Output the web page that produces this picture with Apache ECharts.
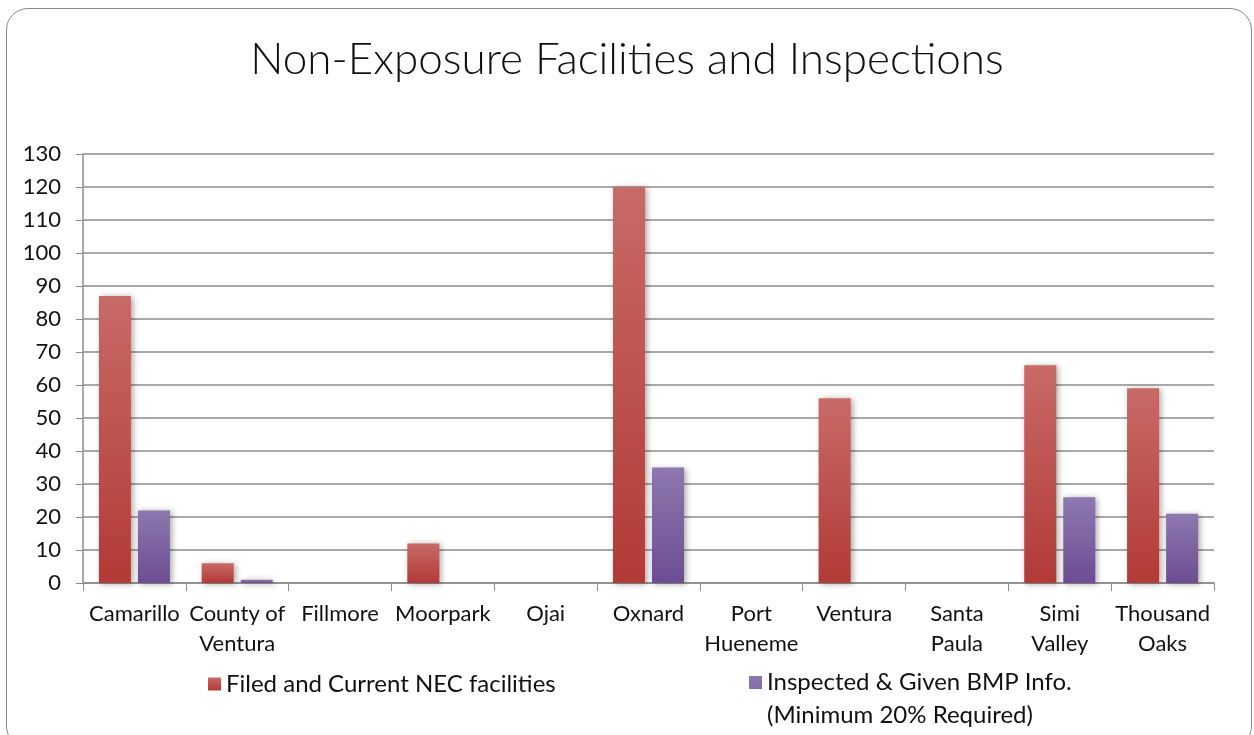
<!DOCTYPE html>
<html>
<head>
<meta charset="utf-8">
<script src="https://cdn.jsdelivr.net/npm/echarts@6/dist/echarts.min.js"></script>
<style>
    html, body { margin: 0; padding: 0; background: #fff; }
    #frame {
        position: absolute; left: 6px; top: 8px; width: 1246px; height: 740px;
        border: 1.5px solid #8a8a8a; border-radius: 22px; box-sizing: border-box;
    }
    #chart { position: absolute; left: 0; top: 0; width: 1254px; height: 735px; }
</style>
</head>
<body>
<div id="frame"></div>
<div id="chart"></div>
<script>
    var categorias = ['Camarillo', 'County of\nVentura', 'Fillmore', 'Moorpark', 'Ojai', 'Oxnard',
        'Port\nHueneme', 'Ventura', 'Santa\nPaula', 'Simi\nValley', 'Thousand\nOaks'];
    var nome_filed = 'Filed and Current NEC facilities';
    var nome_inspected = 'Inspected & Given BMP Info.\n(Minimum 20% Required)';
    var valores_filed = [87, 6, 0, 12, 0, 120, 0, 56, 0, 66, 59];
    var valores_inspected = [22, 1, 0, 0, 0, 35, 0, 0, 0, 26, 21];

    var fonte = 'Lato, "Open Sans", sans-serif';

    function gradiente(topo, base) {
        return new echarts.graphic.LinearGradient(0, 0, 0, 1, [
            { offset: 0, color: topo },
            { offset: 1, color: base }
        ]);
    }

    var chart = echarts.init(document.getElementById('chart'));
    chart.setOption({
        animation: false,
        title: {
            text: 'Non-Exposure Facilities and Inspections',
            left: 'center',
            top: 33,
            textStyle: { fontFamily: fonte, fontWeight: 300, fontSize: 44, color: '#111' }
        },
        legend: [{
            data: [nome_filed],
            left: 203,
            top: 667,
            icon: 'rect',
            itemWidth: 13,
            itemHeight: 13,
            itemGap: 6,
            textStyle: { fontFamily: fonte, fontSize: 24, color: '#111' }
        }, {
            // quadrado alinhado com a primeira linha do texto
            data: [nome_inspected],
            left: 744,
            top: 661,
            icon: 'path://M0,0L13,0L13,13L0,13Z M0,46L0.001,46',
            itemWidth: 13,
            itemHeight: 46,
            textStyle: { fontFamily: fonte, fontSize: 24, color: '#111', lineHeight: 33 }
        }],
        grid: { left: 83, right: 40, top: 154, bottom: 152 },
        xAxis: {
            type: 'category',
            data: categorias,
            axisLine: { lineStyle: { color: '#8c8c8c', width: 1.5 } },
            axisTick: { show: true, length: 8, lineStyle: { color: '#8c8c8c' } },
            axisLabel: {
                interval: 0, margin: 16, fontFamily: fonte, fontSize: 22, color: '#111', lineHeight: 30
            }
        },
        yAxis: {
            type: 'value',
            min: 0, max: 130, interval: 10,
            axisLine: { show: true, lineStyle: { color: '#8c8c8c', width: 1.5 } },
            axisTick: { show: true, length: 7, lineStyle: { color: '#8c8c8c' } },
            axisLabel: { margin: 22, fontFamily: fonte, fontSize: 22, color: '#111' },
            splitLine: { lineStyle: { color: '#8c8c8c', width: 1.5 } }
        },
        series: [{
            name: nome_filed,
            type: 'bar',
            data: valores_filed,
            barWidth: 32,
            barGap: '22%',
            itemStyle: {
                color: gradiente('#c86a66', '#b23a37'),
                shadowBlur: 6, shadowColor: 'rgba(0,0,0,0.35)', shadowOffsetX: 2, shadowOffsetY: 1
            }
        }, {
            name: nome_inspected,
            type: 'bar',
            data: valores_inspected,
            barWidth: 32,
            itemStyle: {
                color: gradiente('#8e78b0', '#6c4d92'),
                shadowBlur: 6, shadowColor: 'rgba(0,0,0,0.35)', shadowOffsetX: 2, shadowOffsetY: 1
            }
        }]
    });
</script>
</body>
</html>
